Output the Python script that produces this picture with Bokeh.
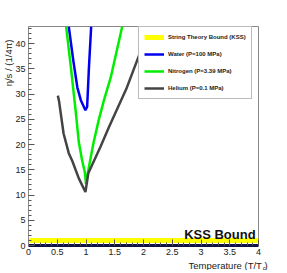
import numpy as np
from bokeh.plotting import figure
from bokeh.models import Range1d, SingleIntervalTicker, Label, Legend, LegendItem
from bokeh.embed import file_html
from bokeh.resources import INLINE

# ---- data ----
kss_T = [0.0, 4.0]
kss_eta = [1.0, 1.0]

water_T = [0.70, 0.78, 0.85, 0.91, 0.97, 0.99, 1.02, 1.05, 1.09]
water_eta = [43.4, 36.6, 31.3, 28.8, 27.3, 26.8, 27.5, 35.0, 43.4]

nitrogen_T = [0.655, 0.74, 0.82, 0.875, 0.93, 0.98, 1.00, 1.05, 1.13, 1.22, 1.31, 1.43, 1.63]
nitrogen_eta = [43.4, 35.0, 26.7, 20.5, 17.0, 14.5, 12.2, 15.5, 20.3, 24.8, 28.7, 33.3, 43.4]

helium_T = [0.51, 0.53, 0.61, 0.70, 0.76, 0.875, 0.99, 1.04, 1.25, 1.40, 1.54, 1.70, 1.85, 2.00, 2.09]
helium_eta = [29.7, 28.7, 22.2, 18.3, 16.8, 13.3, 10.6, 14.3, 19.5, 23.5, 27.0, 31.0, 35.5, 40.0, 43.4]

x_ticks = [0, 0.5, 1, 1.5, 2, 2.5, 3, 3.5, 4]
x_tick_labels = ["0", "0.5", "1", "1.5", "2", "2.5", "3", "3.5", "4"]

legend_labels = ["String Theory Bound (KSS)", "Water (P=100 MPa)",
                 "Nitrogen (P=3.39 MPa)", "Helium (P=0.1 MPa)"]

FONT = "Liberation Sans"

p = figure(width=279, height=270, output_backend="svg", toolbar_location=None,
           x_range=Range1d(0, 4), y_range=Range1d(0, 43.4),
           min_border_left=28, min_border_top=26, min_border_right=21, min_border_bottom=25)
p.grid.visible = False
p.outline_line_color = "#888888"
p.outline_line_width = 1
p.background_fill_color = "white"
p.border_fill_color = "white"

# axes
p.xaxis.ticker = SingleIntervalTicker(interval=0.5, num_minor_ticks=5)
p.xaxis.major_label_overrides = {float(t): l for t, l in zip(x_ticks, x_tick_labels)}
p.yaxis.ticker = SingleIntervalTicker(interval=5, num_minor_ticks=5)
for ax in (p.xaxis[0], p.yaxis[0]):
    ax.axis_label = None
    ax.major_tick_in = 6
    ax.major_tick_out = 0
    ax.minor_tick_in = 3
    ax.minor_tick_out = 0
    ax.major_tick_line_color = "#555555"
    ax.minor_tick_line_color = "#555555"
    ax.major_label_text_font = FONT
    ax.major_label_text_font_size = "9px"
    ax.major_label_text_color = "#222222"
    ax.major_label_standoff = 3
p.yaxis.axis_line_color = "#888888"
p.xaxis.axis_line_color = "#111144"
p.xaxis.axis_line_width = 3

# curves
r_kss = p.line(kss_T, kss_eta, line_color="#ffff00", line_width=5)
r_w = p.line(water_T, water_eta, line_color="#0000ee", line_width=2.5)
r_n = p.line(nitrogen_T, nitrogen_eta, line_color="#00ee00", line_width=2.5)
r_h = p.line(helium_T, helium_eta, line_color="#444444", line_width=2.5)

legend = Legend(items=[LegendItem(label=l, renderers=[r]) for l, r in
                       zip(legend_labels, [r_kss, r_w, r_n, r_h])],
                location=(110, 146))
legend.label_text_font = FONT
legend.label_text_font_style = "bold"
legend.label_text_font_size = "6px"
legend.label_text_color = "#222222"
legend.glyph_width = 20
legend.glyph_height = 10
legend.label_height = 10
legend.label_standoff = 4
legend.spacing = 7
legend.padding = 5
legend.margin = 0
legend.border_line_color = "#777777"
legend.border_line_width = 1
legend.background_fill_alpha = 1
p.add_layout(legend, "center")

# texts
p.add_layout(Label(x=3.95, y=2.2, text="KSS Bound", text_font=FONT, text_font_style="bold",
                   text_font_size="13px", text_align="right", text_baseline="alphabetic",
                   text_color="#111111"))
p.add_layout(Label(x=-0.345, y=40.8, text="η/s / (1/4π)", angle=np.pi / 2, text_font=FONT,
                   text_font_size="9.5px", text_align="right", text_baseline="middle",
                   text_color="#222222"), "left")
p.add_layout(Label(x=4.16, y=-3.95, text="Temperature (T/T\u00a0)", text_font=FONT,
                   text_font_size="9.5px", text_align="right", text_baseline="alphabetic",
                   text_color="#222222"), "above")
p.add_layout(Label(x=4.075, y=-3.95, y_offset=-3, text="c", text_font=FONT,
                   text_font_size="6px", text_align="left", text_baseline="alphabetic",
                   text_color="#222222"), "below")

open("out.html", "w").write(file_html(p, INLINE))
